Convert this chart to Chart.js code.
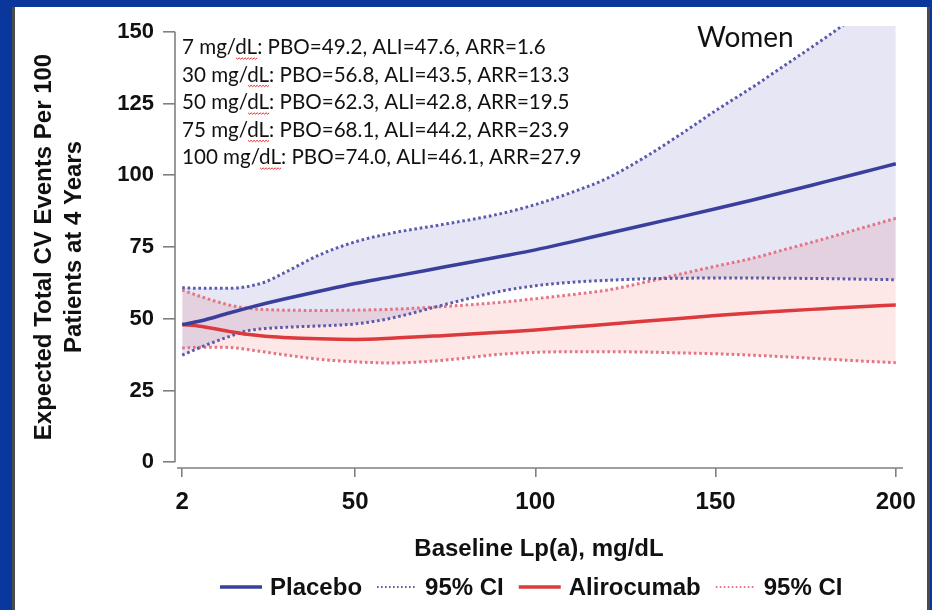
<!DOCTYPE html>
<html>
<head>
<meta charset="utf-8">
<script src="https://cdn.jsdelivr.net/npm/chart.js@4.4.1/dist/chart.umd.min.js"></script>
<style>
  html, body { margin: 0; padding: 0; background: #0a379c; overflow: hidden; }
  #frame { position: absolute; left: 12px; top: 7px; width: 918px; height: 603px; background: #fff;
           border-left: 3px solid #4a4a4a; border-right: 3px solid #4a4a4a; box-sizing: border-box; }
  #chart { position: absolute; left: 0; top: 0; }
</style>
</head>
<body>
<div id="frame"></div>
<canvas id="chart" width="932" height="610"></canvas>
<script>
// baseline Lp(a), mg/dL
const lpa = [2, 7, 15, 20, 25, 30, 40, 50, 60, 75, 90, 100, 110, 120, 130, 140, 150, 160, 170, 180, 190, 200];

// expected total CV events per 100 patients at 4 years
const placebo      = [48.0, 49.2, 52.0, 53.7, 55.3, 56.8, 59.6, 62.3, 64.6, 68.1, 71.6, 74.0, 76.8, 79.7, 82.6, 85.4, 88.3, 91.3, 94.4, 97.6, 100.8, 104.0];
const placeboHi    = [60.8, 60.6, 60.6, 61.2, 62.8, 65.8, 72.2, 76.8, 79.8, 83.0, 86.5, 89.8, 94.0, 99.0, 106.0, 114.0, 122.5, 130.5, 139.0, 147.5, 156.5, 166.0];
const placeboLo    = [37.3, 40.0, 43.8, 45.8, 46.6, 47.0, 47.5, 48.2, 50.2, 55.0, 59.5, 61.5, 62.7, 63.4, 63.9, 64.1, 64.2, 64.2, 64.1, 64.0, 63.8, 63.6];
const alirocumab   = [48.0, 47.4, 45.6, 44.6, 43.9, 43.5, 43.0, 42.8, 43.2, 44.2, 45.3, 46.1, 47.1, 48.1, 49.1, 50.1, 51.1, 52.0, 52.8, 53.5, 54.2, 54.8];
const alirocumabHi = [60.0, 57.8, 54.8, 53.7, 53.2, 53.0, 52.9, 53.0, 53.3, 54.3, 55.7, 57.0, 58.4, 60.0, 62.6, 65.5, 68.3, 71.0, 74.4, 77.8, 81.4, 85.0];
const alirocumabLo = [39.8, 40.1, 40.0, 39.3, 38.4, 37.5, 35.9, 35.0, 34.6, 35.6, 37.6, 38.3, 38.5, 38.5, 38.4, 38.1, 37.8, 37.3, 36.7, 36.0, 35.3, 34.7];

const xTicks = [2, 50, 100, 150, 200];
const yTicks = [0, 25, 50, 75, 100, 125, 150];

const noteLines = [
  '7 mg/dL: PBO=49.2, ALI=47.6, ARR=1.6',
  '30 mg/dL: PBO=56.8, ALI=43.5, ARR=13.3',
  '50 mg/dL: PBO=62.3, ALI=42.8, ARR=19.5',
  '75 mg/dL: PBO=68.1, ALI=44.2, ARR=23.9',
  '100 mg/dL: PBO=74.0, ALI=46.1, ARR=27.9'
];

const BLUE = '#3a3f9c';
const BLUE_CI = '#5a5aac';
const RED = '#dc3a3c';
const RED_CI = '#e47484';

function pts(ys) {
  return lpa.map((x, i) => ({x: x, y: ys[i]}));
}

function solid(label, ys, color) {
  return {
    label: label, data: pts(ys), borderColor: color, borderWidth: 3.5,
    pointRadius: 0, fill: false, cubicInterpolationMode: 'monotone'
  };
}

function dotted(label, ys, color, fill, bg) {
  return {
    label: label, data: pts(ys), borderColor: color, borderWidth: 3,
    borderDash: [2.6, 2.8], pointRadius: 0, fill: fill, backgroundColor: bg,
    cubicInterpolationMode: 'monotone'
  };
}

// axis lines only span the tick range, like the SAS offset axes
const axisLines = {
  id: 'axisLines',
  afterDraw(chart) {
    const ctx = chart.ctx, a = chart.chartArea;
    const y = chart.scales.y;
    ctx.save();
    ctx.strokeStyle = '#808080';
    ctx.lineWidth = 1.6;
    ctx.beginPath();
    ctx.moveTo(a.left, y.getPixelForValue(150));
    ctx.lineTo(a.left, y.getPixelForValue(0));
    ctx.moveTo(a.left + 2, a.bottom);
    ctx.lineTo(a.right, a.bottom);
    ctx.stroke();
    ctx.restore();
  }
};

const notes = {
  id: 'notes',
  afterDraw(chart) {
    const ctx = chart.ctx;
    const left = 182;
    ctx.save();
    ctx.font = '20.6px Lato';
    ctx.fillStyle = '#111';
    ctx.textBaseline = 'alphabetic';
    noteLines.forEach((t, i) => {
      const base = 54 + i * 27.5;
      ctx.fillText(t, left, base);
      // spell-check squiggle under "dL"
      const k = t.indexOf('dL');
      const x0 = left + ctx.measureText(t.slice(0, k)).width;
      const x1 = x0 + ctx.measureText('dL').width;
      ctx.strokeStyle = '#e02828';
      ctx.lineWidth = 1;
      ctx.beginPath();
      for (let xx = x0, n = 0; xx <= x1; xx += 1.5, n++) {
        const yy = base + 4 + (n % 2 ? 1.2 : -0.2);
        if (n === 0) ctx.moveTo(xx, yy); else ctx.lineTo(xx, yy);
      }
      ctx.stroke();
    });
    ctx.font = '28px Lato';
    ctx.textBaseline = 'middle';
    ctx.fillText('Women', 697, 38);
    ctx.restore();
  }
};

const legendRow = {
  id: 'legendRow',
  afterDraw(chart) {
    const ctx = chart.ctx;
    const ds = chart.data.datasets;
    const items = [ds[0], ds[2], ds[1], ds[4]];
    let x = 220;
    const cy = 587;
    ctx.save();
    ctx.font = 'bold 24px "Liberation Sans", Arial, sans-serif';
    ctx.textBaseline = 'middle';
    ctx.fillStyle = '#111';
    items.forEach(d => {
      const dashed = !!d.borderDash;
      ctx.strokeStyle = d.borderColor;
      ctx.lineWidth = dashed ? 2 : 3.5;
      ctx.setLineDash(dashed ? [1.6, 2.4] : []);
      ctx.beginPath();
      ctx.moveTo(x, cy);
      ctx.lineTo(x + (dashed ? 40 : 42), cy);
      ctx.stroke();
      x += (dashed ? 40 : 42) + 8;
      ctx.fillText(d.label, x, cy + 1);
      x += ctx.measureText(d.label).width + 15;
    });
    ctx.restore();
  }
};

Chart.defaults.font.family = '"Liberation Sans", Arial, sans-serif';
Chart.defaults.color = '#111';

new Chart(document.getElementById('chart'), {
  type: 'line',
  data: {
    datasets: [
      solid('Placebo', placebo, BLUE),
      solid('Alirocumab', alirocumab, RED),
      dotted('95% CI', placeboHi, BLUE_CI, 3, 'rgba(86, 86, 178, 0.15)'),
      dotted('95% CI', placeboLo, BLUE_CI, false, 'transparent'),
      dotted('95% CI', alirocumabHi, RED_CI, 5, 'rgba(240, 96, 96, 0.15)'),
      dotted('95% CI', alirocumabLo, RED_CI, false, 'transparent')
    ]
  },
  options: {
    responsive: false,
    animation: false,
    devicePixelRatio: 1,
    layout: {padding: {top: 26, right: 29, left: 0, bottom: 0}},
    plugins: {
      legend: {display: false},
      tooltip: {enabled: false},
      filler: {drawTime: 'beforeDatasetsDraw'}
    },
    scales: {
      x: {
        type: 'linear',
        min: 0,
        max: 202,
        afterBuildTicks: s => { s.ticks = xTicks.map(v => ({value: v})); },
        afterFit: s => { s.height = 142; },
        grid: {drawOnChartArea: false, drawTicks: true, tickLength: 9, color: '#808080', lineWidth: 1.6},
        border: {display: false},
        ticks: {font: {size: 24, weight: 'bold'}, padding: 11, maxRotation: 0},
        title: {
          display: true,
          text: 'Baseline Lp(a), mg/dL',
          font: {size: 24, weight: 'bold', lineHeight: 1.25},
          padding: {top: 0, bottom: 46}
        }
      },
      y: {
        min: -2,
        max: 152,
        afterBuildTicks: s => { s.ticks = yTicks.map(v => ({value: v})); },
        afterFit: s => { s.width = 175; },
        grid: {drawOnChartArea: false, drawTicks: true, tickLength: 12, color: '#808080', lineWidth: 1.6},
        border: {display: false},
        ticks: {font: {size: 22, weight: 'bold'}, padding: 9},
        title: {
          display: true,
          text: ['Expected Total CV Events Per 100', 'Patients at 4 Years'],
          font: {size: 24, weight: 'bold', lineHeight: 1.25},
          padding: {top: 29, bottom: 0}
        }
      }
    }
  },
  plugins: [axisLines, notes, legendRow]
});
</script>
</body>
</html>
